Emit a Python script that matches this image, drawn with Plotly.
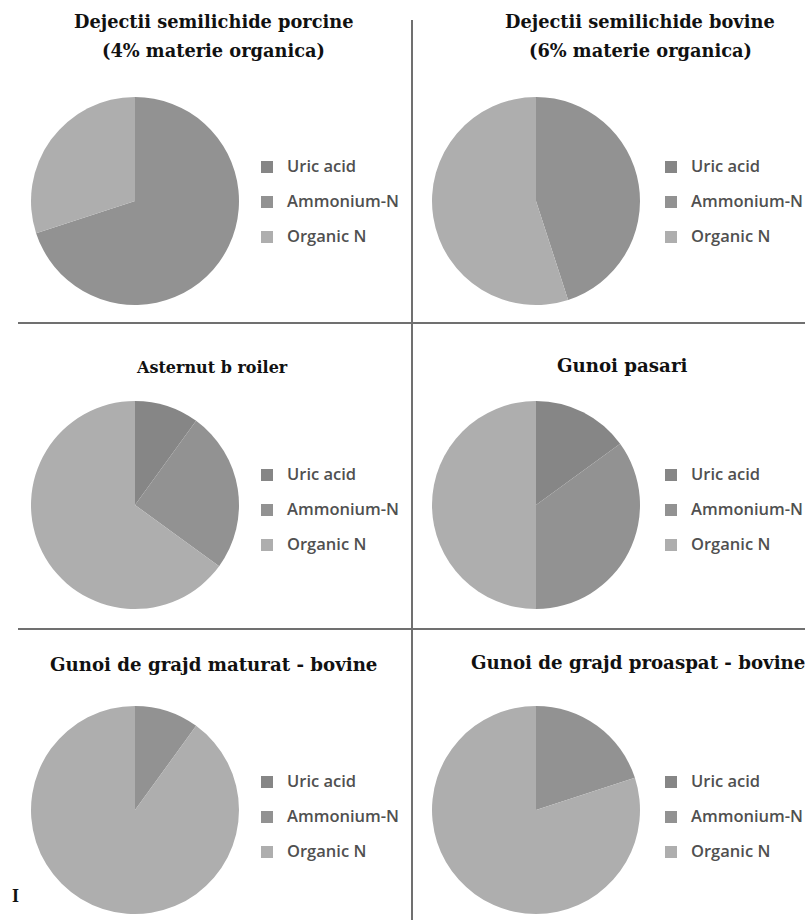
import plotly.graph_objects as go

W, H = 805, 920

# ---- data ----
categories = ["Uric acid", "Ammonium-N", "Organic N"]
titles = [
    "Dejectii semilichide porcine<br>(4% materie organica)",
    "Dejectii semilichide bovine<br>(6% materie organica)",
    "Asternut b roiler",
    "Gunoi pasari",
    "Gunoi de grajd maturat - bovine",
    "Gunoi de grajd proaspat - bovine",
]
porcine_slurry = [0, 70, 30]
bovine_slurry = [0, 45, 55]
broiler_litter = [10, 25, 65]
poultry_manure = [15, 35, 50]
matured_manure = [0, 10, 90]
fresh_manure = [0, 20, 80]
series = [porcine_slurry, bovine_slurry, broiler_litter,
          poultry_manure, matured_manure, fresh_manure]

# ---- style / layout ----
colors = ["#868686", "#929292", "#aeaeae"]
col_px = [(31, 239), (432, 640)]
row_px = [(97, 305), (401, 609), (706, 914)]
legend_left_px = [247, 651]
legend_top_px = [152.5, 460.5, 767.5]
# (x centre, y centre of each title line)
title_pos = [(214, [21.5, 51]), (640, [21.5, 51]), (212, [367]),
             (622, [365]), (213, [664]), (638, [662])]
title_size = [17.8, 17.8, 16, 18.2, 18.2, 18.2]


def px_x(v):
    return v / W


def px_y(v):
    return 1 - v / H


fig = go.Figure()
layout_legends = {}
for i, vals in enumerate(series):
    r, c = divmod(i, 2)
    (x0, x1), (y0, y1) = col_px[c], row_px[r]
    lname = "legend" if i == 0 else f"legend{i + 1}"
    labels = [f"<span style='font-size:16.5px'>{cat}</span><br>" + "&#160;" * (i + 1)
              for cat in categories]
    fig.add_trace(go.Pie(
        labels=labels,
        values=vals,
        sort=False,
        direction="clockwise",
        rotation=0,
        textinfo="none",
        hovertext=categories,
        hoverinfo="text+percent",
        marker=dict(colors=colors, line=dict(width=0)),
        domain=dict(x=[px_x(x0), px_x(x1)], y=[px_y(y1), px_y(y0)]),
        legend=lname,
        legendgroup=f"g{i}",
        showlegend=True,
    ))
    layout_legends[lname] = dict(
        x=px_x(legend_left_px[c]), xanchor="left",
        y=px_y(legend_top_px[r]), yanchor="top",
        bgcolor="rgba(0,0,0,0)",
        valign="top",
        font=dict(family="Open Sans", size=12.3, color="#505050", weight=600),
    )

annotations = []
for i, t in enumerate(titles):
    x, ys = title_pos[i]
    for line, y in zip(t.split("<br>"), ys):
        annotations.append(dict(
            text=f"<b>{line}</b>", x=px_x(x), y=px_y(y), xref="paper", yref="paper",
            xanchor="center", yanchor="middle", showarrow=False,
            font=dict(family="DejaVu Serif", size=title_size[i], color="#111111"),
        ))
annotations.append(dict(
    text="<b>I</b>", x=px_x(15), y=px_y(896), xref="paper", yref="paper",
    xanchor="center", yanchor="middle", showarrow=False,
    font=dict(family="Liberation Serif", size=18, color="#111111"),
))

line_style = dict(color="#707070", width=2)
shapes = [
    dict(type="line", xref="paper", yref="paper", x0=px_x(412), x1=px_x(412),
         y0=px_y(20), y1=px_y(920), line=line_style),
    dict(type="line", xref="paper", yref="paper", x0=px_x(18), x1=1,
         y0=px_y(323), y1=px_y(323), line=line_style),
    dict(type="line", xref="paper", yref="paper", x0=px_x(18), x1=1,
         y0=px_y(629), y1=px_y(629), line=line_style),
]

fig.update_layout(
    width=W, height=H,
    margin=dict(l=0, r=0, t=0, b=0, autoexpand=False),
    paper_bgcolor="white", plot_bgcolor="white",
    annotations=annotations, shapes=shapes,
    **layout_legends,
)

fig.write_html("out.html", config={"displayModeBar": False},
               post_script="document.body.style.margin='0px';")
